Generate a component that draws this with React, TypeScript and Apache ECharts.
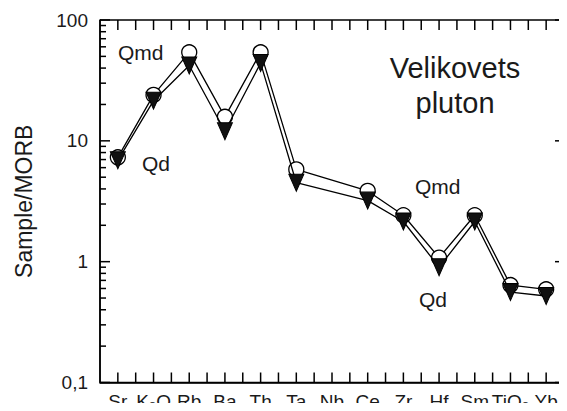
import React, { useEffect, useRef } from "react";
import * as echarts from "echarts";

const categories = ["Sr", "K₂O", "Rb", "Ba", "Th", "Ta", "Nb", "Ce", "Zr", "Hf", "Sm", "TiO₂", "Yb"];
const qmd: (number | null)[] = [7.3, 24, 54, 15.8, 54, 5.8, null, 3.85, 2.42, 1.08, 2.42, 0.64, 0.59];
const qd: (number | null)[] = [6.9, 21.5, 42, 12, 44, 4.5, null, 3.2, 2.15, 0.9, 2.15, 0.56, 0.52];
const majorTicks = [0.1, 1, 10, 100];
const minorTicks = [0.2, 0.3, 0.4, 0.5, 0.6, 0.7, 0.8, 0.9, 2, 3, 4, 5, 6, 7, 8, 9, 20, 30, 40, 50, 60, 70, 80, 90];
const yTitle = "Sample/MORB";
const plutonLines = ["Velikovets", "pluton"];

const FONT = "'Liberation Sans', Arial, sans-serif";
const INK = "#1a1a1a";

export default function App() {
  const ref = useRef<HTMLDivElement>(null);
  useEffect(() => {
    if (!ref.current) return;
    const chart = echarts.init(ref.current, undefined, { renderer: "svg" });
    const line = () => ({ show: true, onZero: false, lineStyle: { color: "#000", width: 1.5 } });
    const texts: any[] = [
      { type: "text", x: 455, y: 68, style: { text: plutonLines[0], fontSize: 29, fontFamily: FONT, fill: INK, align: "center", verticalAlign: "middle" } },
      { type: "text", x: 455, y: 103, style: { text: plutonLines[1], fontSize: 29, fontFamily: FONT, fill: INK, align: "center", verticalAlign: "middle" } },
      { type: "text", x: 118, y: 52, style: { text: "Qmd", fontSize: 21, fontFamily: FONT, fill: INK, align: "left", verticalAlign: "middle" } },
      { type: "text", x: 142, y: 163, style: { text: "Qd", fontSize: 21, fontFamily: FONT, fill: INK, align: "left", verticalAlign: "middle" } },
      { type: "text", x: 415, y: 186, style: { text: "Qmd", fontSize: 21, fontFamily: FONT, fill: INK, align: "left", verticalAlign: "middle" } },
      { type: "text", x: 419, y: 299, style: { text: "Qd", fontSize: 21, fontFamily: FONT, fill: INK, align: "left", verticalAlign: "middle" } },
    ];
    chart.setOption({
      animation: false,
      grid: { left: 100, right: 3, top: 20, bottom: 28.5, containLabel: false, outerBoundsMode: "none" },
      xAxis: [
        {
          type: "category",
          data: categories,
          boundaryGap: true,
          position: "bottom",
          splitLine: { show: false },
          axisLine: line(),
          axisTick: { show: false },
          axisLabel: { show: true, interval: 0, fontSize: 19, color: INK, fontFamily: FONT, margin: 9, hideOverlap: false },
        },
      ],
      yAxis: [
        {
          type: "log",
          logBase: 10,
          min: 0.1,
          max: 100,
          position: "left",
          splitLine: { show: false },
          axisLine: line(),
          axisTick: { show: false },
          axisLabel: {
            fontSize: 19,
            color: INK,
            fontFamily: FONT,
            margin: 12,
            formatter: (v: number) => String(+v.toPrecision(3)).replace(".", ","),
          },
          name: yTitle,
          nameLocation: "middle",
          nameGap: 65,
          nameTextStyle: { fontSize: 23, color: INK, fontFamily: FONT },
        },
      ],
      series: [
        {
          name: "Qmd",
          type: "line",
          data: qmd,
          connectNulls: true,
          symbol: "circle",
          symbolSize: 15,
          showAllSymbol: true,
          lineStyle: { color: "#000", width: 1.3 },
          itemStyle: { color: "#fff", borderColor: "#000", borderWidth: 1.3 },
          z: 3,
        },
        {
          name: "Qd",
          type: "line",
          data: qd,
          connectNulls: true,
          symbol: "triangle",
          symbolRotate: 180,
          symbolSize: [15, 17],
          showAllSymbol: true,
          lineStyle: { color: "#000", width: 1.3 },
          itemStyle: { color: "#111", borderColor: "#000", borderWidth: 1 },
          z: 4,
        },
      ],
      graphic: texts,
    });

    // Frame and ticks from the chart's own scales
    const px = (i: number) => chart.convertToPixel({ xAxisIndex: 0 }, i) as number;
    const py = (v: number) => chart.convertToPixel({ yAxisIndex: 0 }, v) as number;
    const step = px(1) - px(0);
    const left = px(0) - step / 2;
    const right = px(categories.length - 1) + step / 2;
    const top = py(100);
    const bottom = py(0.1);
    const st = { stroke: "#000", lineWidth: 1.5 };
    const seg = (x1: number, y1: number, x2: number, y2: number) => ({ type: "line", silent: true, z: 10, shape: { x1, y1, x2, y2 }, style: st });
    const lines: any[] = [
      seg(left, top, right, top),
      seg(left, bottom, right, bottom),
      seg(left, top, left, bottom),
      seg(right, top, right, bottom),
    ];
    categories.forEach((_, i) => {
      const xs = [px(i), px(i) + step / 2];
      xs.forEach((x) => {
        if (x < right - 1) {
          lines.push(seg(x, bottom, x, bottom - 10));
          lines.push(seg(x, top, x, top + 10));
        }
      });
    });
    majorTicks.forEach((v) => {
      const y = py(v);
      lines.push(seg(left, y, left + 10, y));
      lines.push(seg(right - 9, y, right, y));
    });
    minorTicks.forEach((v) => {
      const y = py(v);
      lines.push(seg(left, y, left + 6, y));
      lines.push(seg(right - 5, y, right, y));
    });
    chart.setOption({ graphic: [...texts, ...lines] }, { replaceMerge: ["graphic"] });

    return () => chart.dispose();
  }, []);
  return (
    <div style={{ margin: -8 }}>
      <div ref={ref} style={{ width: 567, height: 411 }} />
    </div>
  );
}
